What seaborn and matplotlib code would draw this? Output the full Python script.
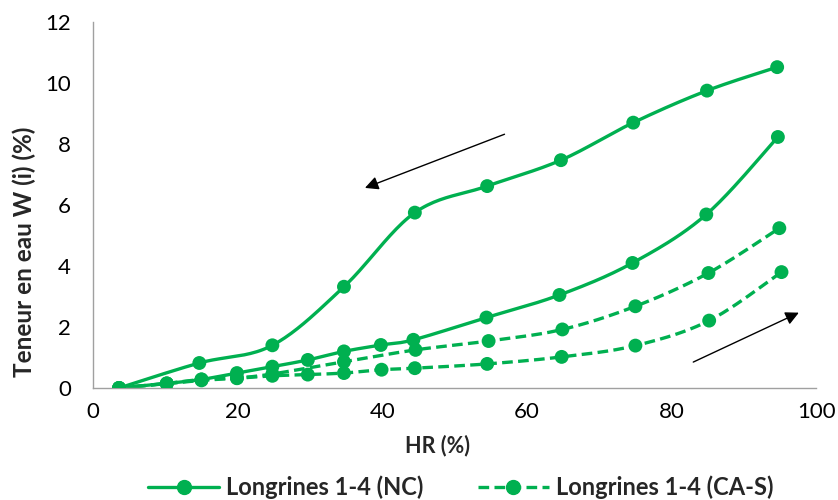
import numpy as np
import pandas as pd
import matplotlib
matplotlib.use("Agg")
import matplotlib.pyplot as plt
from matplotlib.lines import Line2D
import seaborn as sns

# ---- data ----
nc_des_x = [3.6, 14.7, 24.8, 34.7, 44.5, 54.5, 64.7, 74.7, 84.9, 94.6]
nc_des_y = [0.0, 0.82, 1.40, 3.32, 5.75, 6.62, 7.47, 8.70, 9.75, 10.52]
nc_ads_x = [3.6, 10.2, 15.0, 19.9, 24.8, 29.7, 34.7, 39.8, 44.3, 54.4, 64.5, 74.6, 84.8, 94.7]
nc_ads_y = [0.0, 0.15, 0.28, 0.49, 0.70, 0.92, 1.20, 1.41, 1.58, 2.31, 3.05, 4.10, 5.69, 8.23]
cas_des_x = [3.6, 10.2, 15.0, 19.9, 24.8, 34.7, 44.6, 54.7, 64.9, 75.0, 85.1, 94.9]
cas_des_y = [0.0, 0.15, 0.28, 0.33, 0.46, 0.86, 1.25, 1.54, 1.92, 2.68, 3.77, 5.24]
cas_ads_x = [3.6, 10.2, 15.0, 19.9, 24.8, 29.7, 34.7, 39.9, 44.5, 54.5, 64.8, 75.0, 85.2, 95.2]
cas_ads_y = [0.0, 0.14, 0.25, 0.32, 0.40, 0.44, 0.49, 0.60, 0.65, 0.79, 1.02, 1.39, 2.21, 3.80]

legend_labels = ["Longrines 1-4 (NC)", "Longrines 1-4 (CA-S)"]
x_ticks = [0, 20, 40, 60, 80, 100]
y_ticks = [0, 2, 4, 6, 8, 10, 12]

GREEN = "#00B050"
FONT = ["Lato", "DejaVu Sans"]
DASH = (0, (3.2, 1.6))


def smooth(xs, ys, sx=7.23, sy=30.5, n=24):
    """Excel-like smoothed line (cubic Bezier, Catmull-Rom control points)."""
    p = np.column_stack([np.asarray(xs) * sx, np.asarray(ys) * sy])
    out = []
    m = len(p)
    for i in range(m - 1):
        p0 = p[i - 1] if i > 0 else p[i]
        p1, p2 = p[i], p[i + 1]
        p3 = p[i + 2] if i + 2 < m else p[i + 1]
        c1 = p1 + (p2 - p0) / 6.0
        c2 = p2 - (p3 - p1) / 6.0
        t = np.linspace(0, 1, n)[:, None]
        seg = ((1 - t) ** 3) * p1 + 3 * ((1 - t) ** 2) * t * c1 + 3 * (1 - t) * t ** 2 * c2 + t ** 3 * p2
        out.append(seg if i == 0 else seg[1:])
    s = np.vstack(out)
    return s[:, 0] / sx, s[:, 1] / sy


sns.set_theme(style="white")
plt.rcParams["font.family"] = FONT

fig = plt.figure(figsize=(8.38, 5.0), dpi=100)
ax = fig.add_axes([0.111, 0.224, 0.863, 0.732])

curves = [
    (nc_des_x, nc_des_y, "-"),
    (nc_ads_x, nc_ads_y, "-"),
    (cas_des_x, cas_des_y, DASH),
    (cas_ads_x, cas_ads_y, DASH),
]
for xs, ys, ls in curves:
    sxs, sys_ = smooth(xs, ys)
    df = pd.DataFrame({"x": sxs, "y": sys_})
    sns.lineplot(data=df, x="x", y="y", sort=False, estimator=None, ax=ax,
                 color=GREEN, lw=2.4, linestyle=ls, zorder=2)
    pts = pd.DataFrame({"x": xs, "y": ys})
    sns.scatterplot(data=pts, x="x", y="y", ax=ax, color=GREEN, s=100,
                    edgecolor="none", linewidth=0, zorder=3)

ax.set_xlim(0, 100)
ax.set_ylim(0, 12)
ax.set_xticks(x_ticks)
ax.set_yticks(y_ticks)
ax.set_xticklabels([str(v) for v in x_ticks])
ax.set_yticklabels([str(v) for v in y_ticks])
ax.tick_params(axis="both", which="major", labelsize=16, labelcolor="#000000",
               color="#A0A0A0", direction="out", length=5, width=1)
ax.tick_params(axis="x", pad=5)
ax.tick_params(axis="y", pad=11)
for side in ["top", "right"]:
    ax.spines[side].set_visible(False)
for side in ["left", "bottom"]:
    ax.spines[side].set_color("#A0A0A0")
    ax.spines[side].set_linewidth(1)
ax.grid(False)

ax.set_xlabel("HR (%)", fontsize=15.5, fontweight="bold")
ax.set_ylabel("Teneur en eau W (i) (%)", fontsize=17.5, fontweight="bold")
ax.xaxis.set_label_coords(0.476, -0.158)
ax.yaxis.set_label_coords(-0.095, 0.372)
ax.xaxis.label.set_va("center")
ax.yaxis.label.set_va("center")

# arrows
ax.annotate("", xy=(37.6, 6.56), xytext=(56.9, 8.32),
            arrowprops=dict(arrowstyle="-|>", color="black", lw=1,
                            mutation_scale=20, shrinkA=0, shrinkB=0))
ax.annotate("", xy=(97.6, 2.47), xytext=(83.0, 0.85),
            arrowprops=dict(arrowstyle="-|>", color="black", lw=1,
                            mutation_scale=20, shrinkA=0, shrinkB=0))

handles = [
    Line2D([], [], color=GREEN, lw=2.4, linestyle="-", marker="o", markersize=10),
    Line2D([], [], color=GREEN, lw=2.4, linestyle=DASH, marker="o", markersize=10),
]
fig.legend(handles, legend_labels, loc="center", bbox_to_anchor=(0.55, 0.026),
           ncol=2, frameon=False, handlelength=3.0, columnspacing=2.3,
           prop=dict(family=FONT, weight="bold", size=17), handletextpad=0.3,
           borderaxespad=0, borderpad=0)

fig.savefig("out.png", dpi=100)
